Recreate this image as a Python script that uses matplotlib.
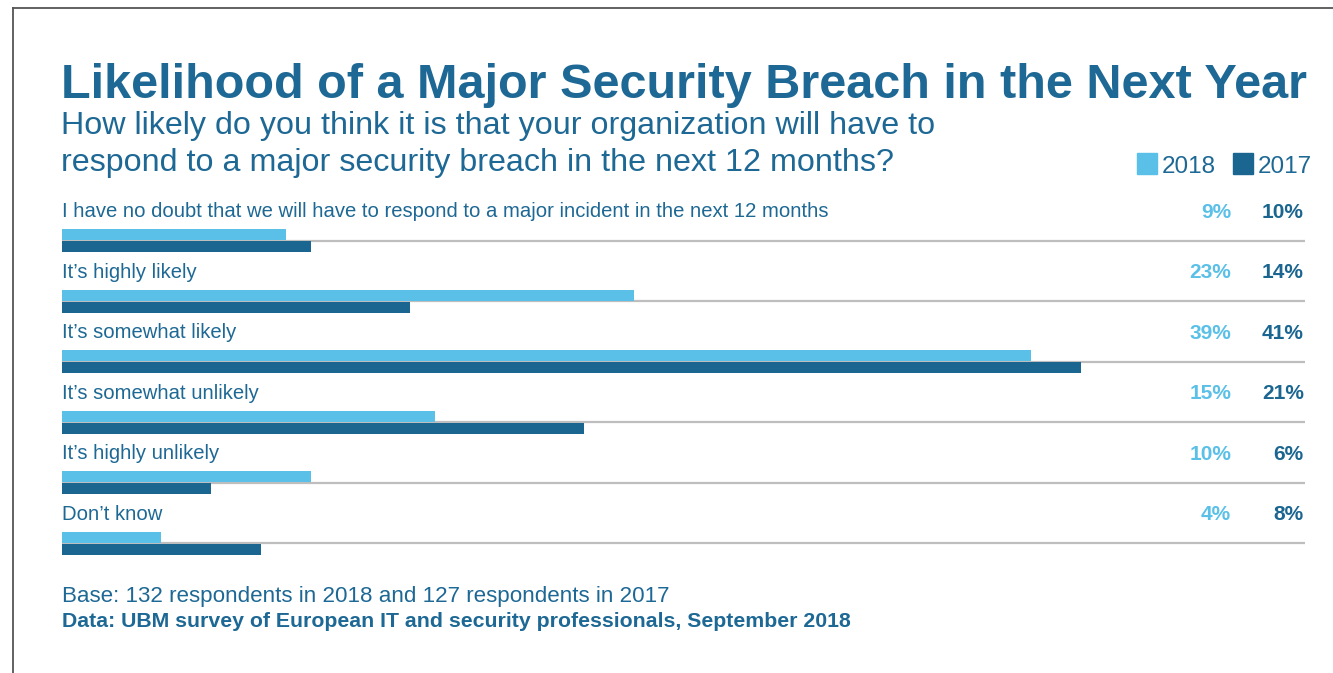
import matplotlib.pyplot as plt
from matplotlib.patches import Rectangle
from matplotlib.lines import Line2D

# survey answers, top to bottom
categories = [
    "I have no doubt that we will have to respond to a major incident in the next 12 months",
    "It\u2019s highly likely",
    "It\u2019s somewhat likely",
    "It\u2019s somewhat unlikely",
    "It\u2019s highly unlikely",
    "Don\u2019t know",
]
values_2018 = [9, 23, 39, 15, 10, 4]
values_2017 = [10, 14, 41, 21, 6, 8]
years = ["2018", "2017"]

LIGHT = "#5BC0E8"
DARK = "#1B6690"
TEXT = "#1D6894"
GRID = "#BEBEBE"

W, H = 1333, 673
plt.rcParams['font.family'] = ['Liberation Sans', 'DejaVu Sans']


# pixel position -> figure fraction
def px(x, y):
    return x / W, 1 - y / H


fig = plt.figure(figsize=(W / 100, H / 100), dpi=100)

# frame lines along the top and left edge
fig.add_artist(Line2D([13 / W, 1], [1 - 8 / H] * 2, color="#555555", lw=1.3))
fig.add_artist(Line2D([13 / W] * 2, [1 - 8 / H, 0], color="#555555", lw=1.3))

# title and question
fig.text(*px(61, 98), "Likelihood of a Major Security Breach in the Next Year",
         fontsize=35, fontweight="bold", color=TEXT, va="baseline")
fig.text(*px(61, 134), "How likely do you think it is that your organization will have to",
         fontsize=23.2, color=TEXT, va="baseline")
fig.text(*px(61, 171), "respond to a major security breach in the next 12 months?",
         fontsize=23.2, color=TEXT, va="baseline")

# legend boxes
for (x0, name, col) in [(1137, years[0], LIGHT), (1233, years[1], DARK)]:
    fig.add_artist(Rectangle(px(x0, 174), 20 / W, 21 / H, color=col,
                             transform=fig.transFigure))
    fig.text(*px(x0 + 25, 173), name, fontsize=17.5, color=TEXT, va="baseline")

# bar area: one unit per answer, x in percent
ax_top, ax_bot = 180, 560
ax = fig.add_axes([62 / W, 1 - ax_bot / H, 1243 / W, (ax_bot - ax_top) / H])
row_px = 60.5
ax.set_xlim(0, 1243 / 24.85)
ax.set_ylim((ax_bot - ax_top) / row_px, 0)
ax.axis("off")

bar_h = 11 / row_px
off = 6 / row_px
for i, cat in enumerate(categories):
    sep = i + 1
    ax.plot([0, ax.get_xlim()[1]], [sep, sep], color=GRID, lw=1.6, zorder=1,
            solid_capstyle="butt")
    ax.barh(sep - off, values_2018[i], height=bar_h, color=LIGHT, zorder=2)
    ax.barh(sep + off, values_2017[i], height=bar_h, color=DARK, zorder=2)
    ax.text(0, i + 0.612, cat, fontsize=14.6, color=TEXT, va="baseline")
    ax.text(47.05, i + 0.625, f"{values_2018[i]}%", fontsize=15, fontweight="bold",
            color=LIGHT, ha="right", va="baseline")
    ax.text(49.97, i + 0.625, f"{values_2017[i]}%", fontsize=15, fontweight="bold",
            color=DARK, ha="right", va="baseline")

# notes under the chart
fig.text(*px(62, 602), "Base: 132 respondents in 2018 and 127 respondents in 2017",
         fontsize=16.1, color=TEXT, va="baseline")
fig.text(*px(62, 627), "Data: UBM survey of European IT and security professionals, September 2018",
         fontsize=15.3, fontweight="bold", color=TEXT, va="baseline")

fig.savefig("out.png", dpi=100)
